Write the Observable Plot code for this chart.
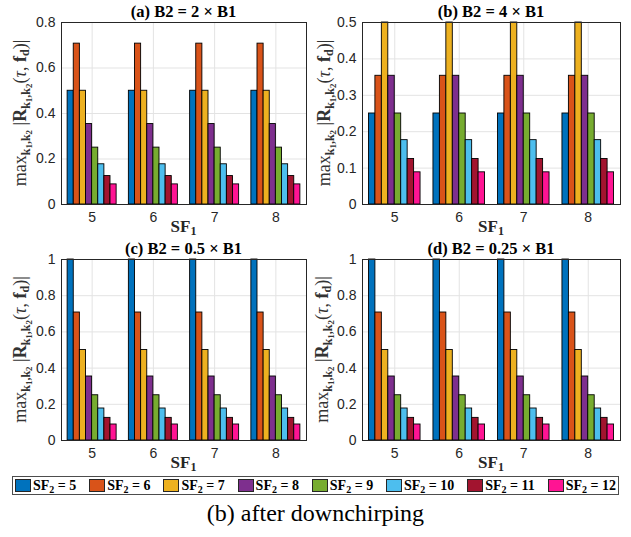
<!DOCTYPE html>
<html>
<head>
<meta charset="utf-8">
<script src="https://cdn.jsdelivr.net/npm/d3@7"></script>
<script src="https://cdn.jsdelivr.net/npm/@observablehq/plot@0.6"></script>
<style>
  html, body { margin: 0; padding: 0; background: #fff; }
  #wrap { position: relative; width: 631px; height: 537px; overflow: hidden; background: #fff; }
  .panel { position: absolute; }
  .panel svg { background: transparent; overflow: visible; }
  #legend {
    position: absolute; left: 12px; top: 476px; width: 607px; height: 19px;
    box-sizing: border-box; border: 1px solid #4d4d4d; background: #fff;
    display: flex; align-items: center; justify-content: space-between;
    padding: 0 2px 0 2px;
    font-family: "Liberation Serif", serif; font-weight: bold; font-size: 14px; color: #000;
  }
  .item { display: flex; align-items: center; white-space: nowrap; }
  .sw { width: 16px; height: 13px; box-sizing: border-box; border: 1px solid #262626; margin-right: 2px; }
  .item sub { font-size: 10px; vertical-align: -3px; line-height: 0; }
  #caption {
    position: absolute; left: 0; width: 631px; top: 500px; text-align: center;
    font-family: "Liberation Serif", serif; font-size: 24px; color: #000;
  }
</style>
</head>
<body>
<div id="wrap">
  <div id="legend"></div>
  <div id="caption">(b) after downchirping</div>
</div>
<script>
// ---------- data ----------
const sf1 = [5, 6, 7, 8];
const sf2 = [5, 6, 7, 8, 9, 10, 11, 12];
const seriesColors = ["#0072BD", "#D95319", "#EDB120", "#7E2F8E", "#77AC30", "#4DBEEE", "#A2142F", "#FF1493"];

const valsA = [0.5, 0.7071, 0.5, 0.3536, 0.25, 0.1768, 0.125, 0.0884];
const valsB = [0.25, 0.3536, 0.5, 0.3536, 0.25, 0.1768, 0.125, 0.0884];
const valsC = [1.0, 0.7071, 0.5, 0.3536, 0.25, 0.1768, 0.125, 0.0884];
const valsD = [1.0, 0.7071, 0.5, 0.3536, 0.25, 0.1768, 0.125, 0.0884];

const ticksA = [0, 0.2, 0.4, 0.6, 0.8];
const ticksB = [0, 0.1, 0.2, 0.3, 0.4, 0.5];
const ticksC = [0, 0.2, 0.4, 0.6, 0.8, 1];
const ticksD = [0, 0.2, 0.4, 0.6, 0.8, 1];

const titleLetters = ["(a)", "(b)", "(c)", "(d)"];
const ratioLabels = ["2", "4", "0.5", "0.25"];

// ---------- layout ----------
const layouts = [
  {left: 0,   top: 0,   width: 312, height: 240, ml: 61, mr: 6,  mt: 22, mb: 36, ylx: 26, xlOff: 28},
  {left: 312, top: 0,   width: 319, height: 240, ml: 50, mr: 11, mt: 22, mb: 36, ylx: 18, xlOff: 28},
  {left: 0,   top: 240, width: 312, height: 234, ml: 61, mr: 6,  mt: 19, mb: 34, ylx: 26, xlOff: 28},
  {left: 312, top: 240, width: 319, height: 234, ml: 50, mr: 11, mt: 19, mb: 34, ylx: 16, xlOff: 28}
];

const panels = [
  {vals: valsA, ticks: ticksA},
  {vals: valsB, ticks: ticksB},
  {vals: valsC, ticks: ticksC},
  {vals: valsD, ticks: ticksD}
];

const groupWidth = 0.8;
const barW = groupWidth / sf2.length;
const wrap = document.getElementById("wrap");
const fmt = d3.format("~g");

panels.forEach((p, k) => {
  const L = layouts[k];
  const rows = sf1.flatMap(s1 => sf2.map((s2, i) => ({sf1: s1, sf2: s2, idx: i, v: p.vals[i]})));
  const yMax = p.ticks[p.ticks.length - 1];
  const svg = Plot.plot({
    width: L.width, height: L.height,
    marginLeft: L.ml, marginRight: L.mr, marginTop: L.mt, marginBottom: L.mb,
    style: {fontFamily: "'Liberation Sans', Arial, sans-serif", fontSize: "14px", color: "#262626", background: "transparent"},
    x: {type: "linear", domain: [4.5, 8.5]},
    y: {domain: [0, yMax]},
    color: {type: "ordinal", domain: sf2, range: seriesColors},
    marks: [
      Plot.gridX(sf1, {stroke: "#e3e3e3", strokeOpacity: 1}),
      Plot.gridY(p.ticks, {stroke: "#e3e3e3", strokeOpacity: 1}),
      Plot.rectY(rows, {
        x1: d => d.sf1 - groupWidth / 2 + d.idx * barW,
        x2: d => d.sf1 - groupWidth / 2 + (d.idx + 1) * barW,
        y1: 0, y2: "v",
        fill: "sf2", stroke: "#000", strokeWidth: 0.9
      }),
      Plot.frame({stroke: "#262626", strokeWidth: 1}),
      Plot.axisX(sf1, {tickSize: 0, tickPadding: 8, label: null, tickFormat: fmt}),
      Plot.axisY(p.ticks, {tickSize: 0, tickPadding: 6, label: null, tickFormat: fmt})
    ]
  });
  const div = document.createElement("div");
  div.className = "panel";
  div.style.left = L.left + "px";
  div.style.top = L.top + "px";
  div.appendChild(svg);
  wrap.appendChild(div);

  const s = d3.select(svg);
  const cx = L.ml + (L.width - L.ml - L.mr) / 2;
  const cy = L.mt + (L.height - L.mt - L.mb) / 2;
  const serif = "'Liberation Serif', 'Times New Roman', serif";

  // title
  s.append("text")
    .attr("x", cx).attr("y", L.mt - 5)
    .attr("text-anchor", "middle")
    .attr("font-family", serif).attr("font-weight", "bold").attr("font-size", 16.5)
    .attr("fill", "#000")
    .attr("xml:space", "preserve")
    .text(titleLetters[k] + " B2 = " + ratioLabels[k] + " \u00d7 B1");

  // x label
  const xl = s.append("text")
    .attr("x", cx).attr("y", L.height - L.mb + L.xlOff)
    .attr("text-anchor", "middle")
    .attr("font-family", serif).attr("font-weight", "bold").attr("font-size", 17)
    .attr("fill", "#262626");
  xl.append("tspan").text("SF");
  xl.append("tspan").attr("font-size", 12).attr("dy", 3).text("1");

  // y label
  const yl = s.append("text")
    .attr("transform", `translate(${L.ylx},${cy}) rotate(-90)`)
    .attr("text-anchor", "middle")
    .attr("font-family", serif).attr("font-size", 18)
    .attr("fill", "#333");
  yl.append("tspan").text("max");
  yl.append("tspan").attr("font-size", 12).attr("font-weight", "bold").attr("dy", 4).text("k");
  yl.append("tspan").attr("font-size", 9).attr("font-weight", "bold").attr("dy", 2).text("1");
  yl.append("tspan").attr("font-size", 12).attr("font-weight", "bold").attr("dy", -2).text(",k");
  yl.append("tspan").attr("font-size", 9).attr("font-weight", "bold").attr("dy", 2).text("2");
  yl.append("tspan").attr("dy", -6).text(" |");
  yl.append("tspan").attr("font-weight", "bold").text("R");
  yl.append("tspan").attr("font-size", 12).attr("font-weight", "bold").attr("dy", 4).text("k");
  yl.append("tspan").attr("font-size", 9).attr("font-weight", "bold").attr("dy", 2).text("1");
  yl.append("tspan").attr("font-size", 12).attr("font-weight", "bold").attr("dy", -2).text(",k");
  yl.append("tspan").attr("font-size", 9).attr("font-weight", "bold").attr("dy", 2).text("2");
  yl.append("tspan").attr("dy", -6).text("(");
  yl.append("tspan").attr("font-style", "italic").text("\u03c4");
  yl.append("tspan").text(", ");
  yl.append("tspan").attr("font-weight", "bold").text("f");
  yl.append("tspan").attr("font-size", 12).attr("font-weight", "bold").attr("dy", 3).text("d");
  yl.append("tspan").attr("dy", -3).text(")|");
});

// legend
const legend = document.getElementById("legend");
sf2.forEach((v, i) => {
  const it = document.createElement("div");
  it.className = "item";
  const sw = document.createElement("span");
  sw.className = "sw";
  sw.style.background = seriesColors[i];
  const lab = document.createElement("span");
  lab.innerHTML = "SF<sub>2</sub> = " + v;
  it.appendChild(sw);
  it.appendChild(lab);
  legend.appendChild(it);
});
</script>
</body>
</html>
